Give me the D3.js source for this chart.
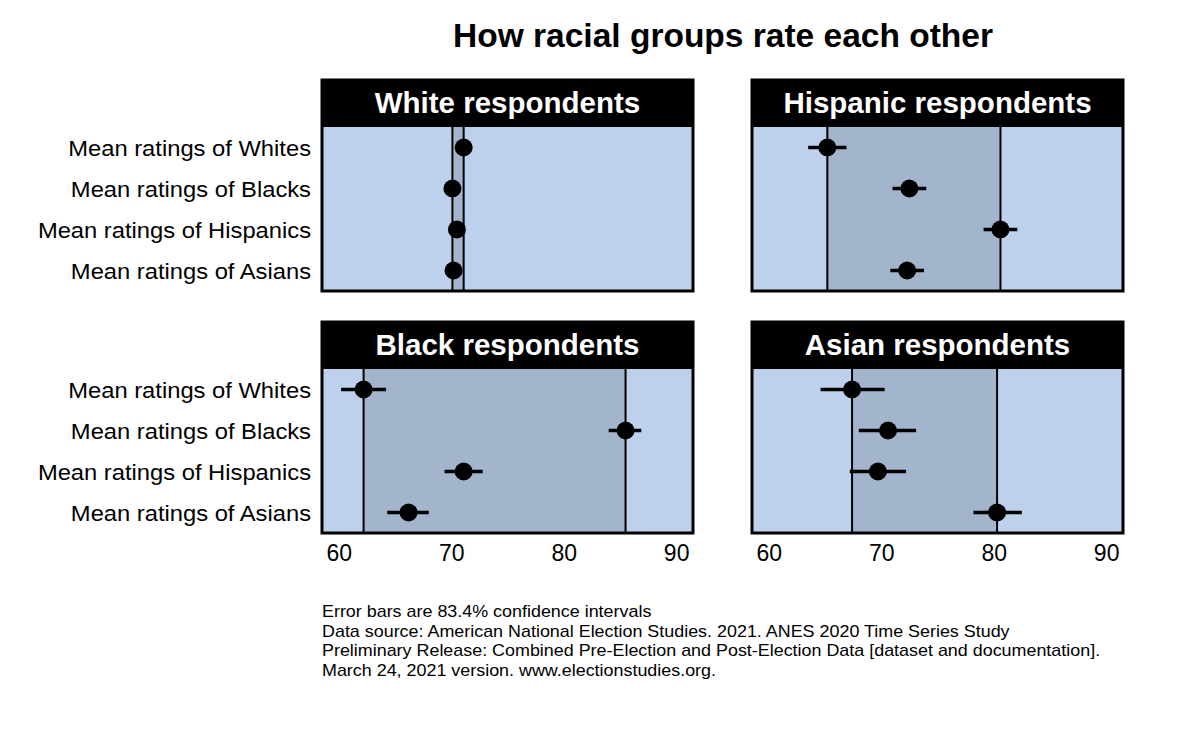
<!DOCTYPE html>
<html>
<head>
<meta charset="utf-8">
<script src="https://cdn.jsdelivr.net/npm/d3@7"></script>
<style>
  body { margin: 0; background: #fff; }
  text { font-family: Arial, "Liberation Sans", sans-serif; }
</style>
</head>
<body>
<svg id="chart" width="1200" height="741"></svg>
<script>
// rated groups (rows) and the tick labels
const targets = ["Whites", "Blacks", "Hispanics", "Asians"];
const tickValues = [60, 70, 80, 90];

// mean feeling-thermometer ratings + 83.4% CI, one set per respondent group
const whiteMeans = [71.1, 70.1, 70.5, 70.2];
const whiteLo    = [70.7, 69.7, 70.1, 69.8];
const whiteHi    = [71.5, 70.5, 70.9, 70.6];

const hispanicMeans = [65.2, 72.5, 80.6, 72.3];
const hispanicLo    = [63.5, 71.0, 79.1, 70.8];
const hispanicHi    = [66.9, 74.0, 82.1, 73.8];

const blackMeans = [62.2, 85.5, 71.1, 66.2];
const blackLo    = [60.2, 84.0, 69.4, 64.3];
const blackHi    = [64.2, 86.9, 72.8, 68.0];

const asianMeans = [67.4, 70.6, 69.7, 80.3];
const asianLo    = [64.6, 68.0, 67.2, 78.2];
const asianHi    = [70.3, 73.1, 72.2, 82.5];

const footnotes = [
  "Error bars are 83.4% confidence intervals",
  "Data source: American National Election Studies. 2021. ANES 2020 Time Series Study",
  "Preliminary Release: Combined Pre-Election and Post-Election Data [dataset and documentation].",
  "March 24, 2021 version. www.electionstudies.org."
];

const panels = [
  {title: "White respondents",    means: whiteMeans,    lo: whiteLo,    hi: whiteHi,    col: 0, row: 0},
  {title: "Hispanic respondents", means: hispanicMeans, lo: hispanicLo, hi: hispanicHi, col: 1, row: 0},
  {title: "Black respondents",    means: blackMeans,    lo: blackLo,    hi: blackHi,    col: 0, row: 1},
  {title: "Asian respondents",    means: asianMeans,    lo: asianLo,    hi: asianHi,    col: 1, row: 1}
];

const svg = d3.select('#chart');

const colX = [[322, 693], [752, 1123]];
const rowY = [{head: 80, top: 127, bottom: 291}, {head: 322, top: 369, bottom: 533}];
const light = "#bdd1ed";
const dark = "#a3b5cd";

// title
svg.append('text')
  .attr('x', 723).attr('y', 47)
  .attr('text-anchor', 'middle')
  .attr('font-size', 33.5).attr('font-weight', 'bold')
  .text("How racial groups rate each other");

panels.forEach(p => {
  const [x0, x1] = colX[p.col];
  const r = rowY[p.row];

  const x = d3.scaleLinear().domain([58.5, 91.5]).range([x0, x1]);
  const y = d3.scaleBand().domain(targets).range([r.top, r.bottom]);

  const rows = targets.map((t, i) => ({t, m: p.means[i], lo: p.lo[i], hi: p.hi[i]}));
  const ext = d3.extent(p.means);

  const g = svg.append('g');

  g.append('rect')
    .attr('x', x0).attr('y', r.top)
    .attr('width', x1 - x0).attr('height', r.bottom - r.top)
    .attr('fill', light);

  // shaded span between lowest and highest mean
  g.append('rect')
    .attr('x', x(ext[0])).attr('y', r.top)
    .attr('width', x(ext[1]) - x(ext[0])).attr('height', r.bottom - r.top)
    .attr('fill', dark);

  g.selectAll('line.ref')
    .data(ext)
    .enter()
    .append('line')
    .attr('class', 'ref')
    .attr('x1', d => x(d)).attr('x2', d => x(d))
    .attr('y1', r.top).attr('y2', r.bottom)
    .attr('stroke', '#000').attr('stroke-width', 2);

  g.selectAll('line.err')
    .data(rows)
    .enter()
    .append('line')
    .attr('class', 'err')
    .attr('x1', d => x(d.lo)).attr('x2', d => x(d.hi))
    .attr('y1', d => y(d.t) + y.bandwidth() / 2)
    .attr('y2', d => y(d.t) + y.bandwidth() / 2)
    .attr('stroke', '#000').attr('stroke-width', 3.5);

  g.selectAll('circle')
    .data(rows)
    .enter()
    .append('circle')
    .attr('cx', d => x(d.m))
    .attr('cy', d => y(d.t) + y.bandwidth() / 2)
    .attr('r', 9)
    .attr('fill', '#000');

  // header strip
  g.append('rect')
    .attr('x', x0).attr('y', r.head)
    .attr('width', x1 - x0).attr('height', r.top - r.head)
    .attr('fill', '#000');

  g.append('text')
    .attr('x', (x0 + x1) / 2).attr('y', r.head + 33)
    .attr('text-anchor', 'middle')
    .attr('fill', '#fff')
    .attr('font-size', 29.5).attr('font-weight', 'bold')
    .text(p.title);

  g.append('rect')
    .attr('x', x0).attr('y', r.head)
    .attr('width', x1 - x0).attr('height', r.bottom - r.head)
    .attr('fill', 'none')
    .attr('stroke', '#000').attr('stroke-width', 3);

  // row labels only on the left column
  if (p.col === 0) {
    g.selectAll('text.lab')
      .data(targets)
      .enter()
      .append('text')
      .attr('class', 'lab')
      .attr('text-anchor', 'end')
      .attr('font-size', 22)
      .attr('transform', d => `translate(311,${y(d) + y.bandwidth() / 2 + 8}) scale(1.08,1)`)
      .text(d => "Mean ratings of " + d);
  }

  // x axis under the bottom row, no domain line or ticks
  if (p.row === 1) {
    const axis = g.append('g')
      .attr('transform', `translate(0,${r.bottom})`)
      .call(d3.axisBottom(x).tickValues(tickValues).tickSize(0).tickPadding(12));
    axis.select('.domain').remove();
    axis.selectAll('text')
      .attr('font-size', 23)
      .attr('font-family', 'Arial, "Liberation Sans", sans-serif')
      .attr('fill', '#000');
  }
});

svg.selectAll('text.foot')
  .data(footnotes)
  .enter()
  .append('text')
  .attr('class', 'foot')
  .attr('font-size', 16)
  .attr('transform', (d, i) => `translate(322,${617 + i * 19.7}) scale(1.12,1)`)
  .text(d => d);
</script>
</body>
</html>
